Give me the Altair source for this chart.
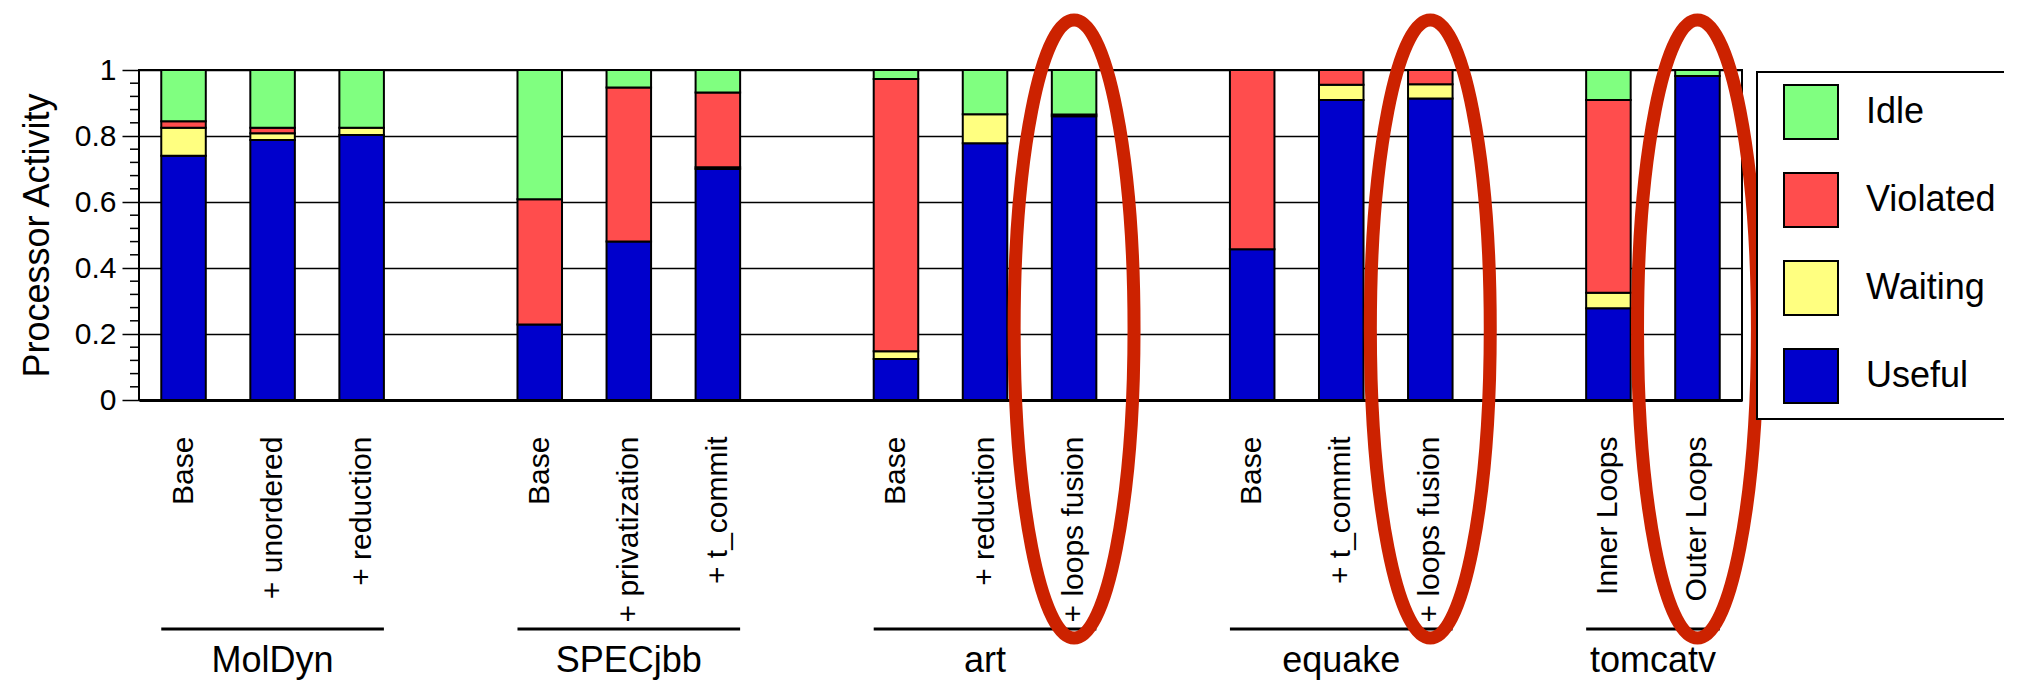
import altair as alt
import pandas as pd

FONT = "Liberation Sans"

# ---- data ----
groups = ["MolDyn", "SPECjbb", "art", "equake", "tomcatv"]
configs = [
    ["Base", "+ unordered", "+ reduction"],
    ["Base", "+ privatization", "+ t_commit"],
    ["Base", "+ reduction", "+ loops fusion"],
    ["Base", "+ t_commit", "+ loops fusion"],
    ["Inner Loops", "Outer Loops"],
]
useful   = [0.740, 0.788, 0.803, 0.229, 0.480, 0.700, 0.124, 0.778, 0.860, 0.457, 0.909, 0.914, 0.278, 0.982]
waiting  = [0.085, 0.020, 0.022, 0.000, 0.000, 0.005, 0.024, 0.088, 0.005, 0.000, 0.046, 0.043, 0.047, 0.000]
violated = [0.020, 0.017, 0.000, 0.379, 0.467, 0.227, 0.825, 0.000, 0.000, 0.543, 0.045, 0.043, 0.584, 0.000]
idle     = [0.155, 0.175, 0.175, 0.392, 0.053, 0.068, 0.027, 0.134, 0.135, 0.000, 0.000, 0.000, 0.091, 0.018]

states = ["Idle", "Violated", "Waiting", "Useful"]
state_colors = ["#80FF80", "#FF4D4D", "#FFFF80", "#0000CC"]
highlighted = [("art", "+ loops fusion"), ("equake", "+ loops fusion"), ("tomcatv", "Outer Loops")]

# ---- build tables ----
keys, domain, group_rows = [], [], []
for gi, (g, cs) in enumerate(zip(groups, configs)):
    if gi > 0:
        domain.append(f"gap{gi}|")
    for c in cs:
        k = f"{g}|{c}"
        keys.append(k)
        domain.append(k)
    group_rows.append({"group": g, "first": f"{g}|{cs[0]}", "last": f"{g}|{cs[-1]}"})

series = {"Useful": useful, "Waiting": waiting, "Violated": violated, "Idle": idle}
stack_rank = {"Useful": 0, "Waiting": 1, "Violated": 2, "Idle": 3}
rows = []
for name, vals in series.items():
    for k, v in zip(keys, vals):
        rows.append({"key": k, "state": name, "value": v, "rank": stack_rank[name]})
df = pd.DataFrame(rows)
grp_df = pd.DataFrame(group_rows)
hl_df = pd.DataFrame({"key": [f"{g}|{c}" for g, c in highlighted]})
minor_df = pd.DataFrame({"value": [round(i * 0.04, 2) for i in range(1, 25) if i % 5]})

x_scale = alt.Scale(domain=domain, paddingInner=0.5, paddingOuter=0.25)
y_scale = alt.Scale(domain=[0, 1], nice=False, zero=True)

bars = alt.Chart(df).transform_filter("datum.value > 0").mark_bar(
    stroke="black", strokeWidth=2, opacity=1
).encode(
    x=alt.X("key:N", scale=x_scale, sort=domain,
            axis=alt.Axis(title=None, labelAngle=270, labelAlign="right", labelBaseline="middle",
                          labelFontSize=30, labelFont=FONT, labelColor="black", labelPadding=36,
                          labelLimit=400, labelOverlap=False, ticks=False, grid=False,
                          domain=True, domainColor="black", domainWidth=3,
                          labelExpr="split(datum.label, '|')[1]")),
    y=alt.Y("value:Q", stack="zero", scale=y_scale,
            axis=alt.Axis(title="Processor Activity", values=[0, 0.2, 0.4, 0.6, 0.8, 1], format="~g",
                          labelFontSize=30, labelFont=FONT, labelColor="black", labelPadding=6,
                          tickSize=17, tickColor="black", tickWidth=1.5,
                          grid=True, gridColor="black", gridWidth=1.5, gridOpacity=1,
                          domain=False,
                          titleFont=FONT, titleFontSize=36, titleFontWeight="normal", titleColor="black",
                          titleAngle=270, titleAlign="center", titleBaseline="middle",
                          titleX=-102, titleY=165)),
    color=alt.Color("state:N", scale=alt.Scale(domain=states, range=state_colors),
                    legend=alt.Legend(title=None, orient="none", legendX=1618, legendY=2,
                                      symbolType="square", symbolSize=2916,
                                      symbolStrokeColor="black", symbolStrokeWidth=2, symbolOpacity=1,
                                      symbolOffset=14, labelOffset=27, rowPadding=26,
                                      labelFont=FONT, labelFontSize=36, labelColor="black", labelLimit=400,
                                      padding=12, strokeColor="black", fillColor="white")),
    order=alt.Order("rank:Q"),
)

minor = alt.Chart(minor_df).mark_rule(color="black", strokeWidth=1.5).encode(
    y=alt.Y("value:Q", scale=y_scale),
    x=alt.value(-9), x2=alt.value(0),
)

underline = alt.Chart(grp_df).mark_rule(color="black", strokeWidth=3).encode(
    x=alt.value({"expr": "scale('x', datum.first)"}),
    x2=alt.value({"expr": "scale('x', datum.last) + bandwidth('x')"}),
    y=alt.value(559),
)

group_text = alt.Chart(grp_df).mark_text(
    font=FONT, fontSize=36, color="black", align="center", baseline="alphabetic"
).encode(
    x=alt.value({"expr": "(scale('x', datum.first) + scale('x', datum.last) + bandwidth('x')) / 2"}),
    y=alt.value(602),
    text="group:N",
)

ellipse_path = ("M 0 -1 C 0.1072 -1 0.194 -0.5523 0.194 0 C 0.194 0.5523 0.1072 1 0 1 "
                "C -0.1072 1 -0.194 0.5523 -0.194 0 C -0.194 -0.5523 -0.1072 -1 0 -1 Z")
ellipses = alt.Chart(hl_df).mark_point(
    shape=ellipse_path, size=618 * 618, filled=False, color="#CC2200", strokeWidth=13, opacity=1
).encode(
    x=alt.X("key:N", scale=x_scale, sort=domain),
    y=alt.value(259),
)

chart = alt.layer(bars, minor, underline, group_text, ellipses).properties(
    width=1603, height=330,
    autosize=alt.AutoSizeParams(type="none"),
    padding={"left": 131, "top": 62, "right": 262, "bottom": 281},
    background="white",
).configure_view(stroke="black", strokeWidth=2).configure_legend(strokeWidth=2)

chart.save("out.html", embed_options={"renderer": "svg", "actions": False})
